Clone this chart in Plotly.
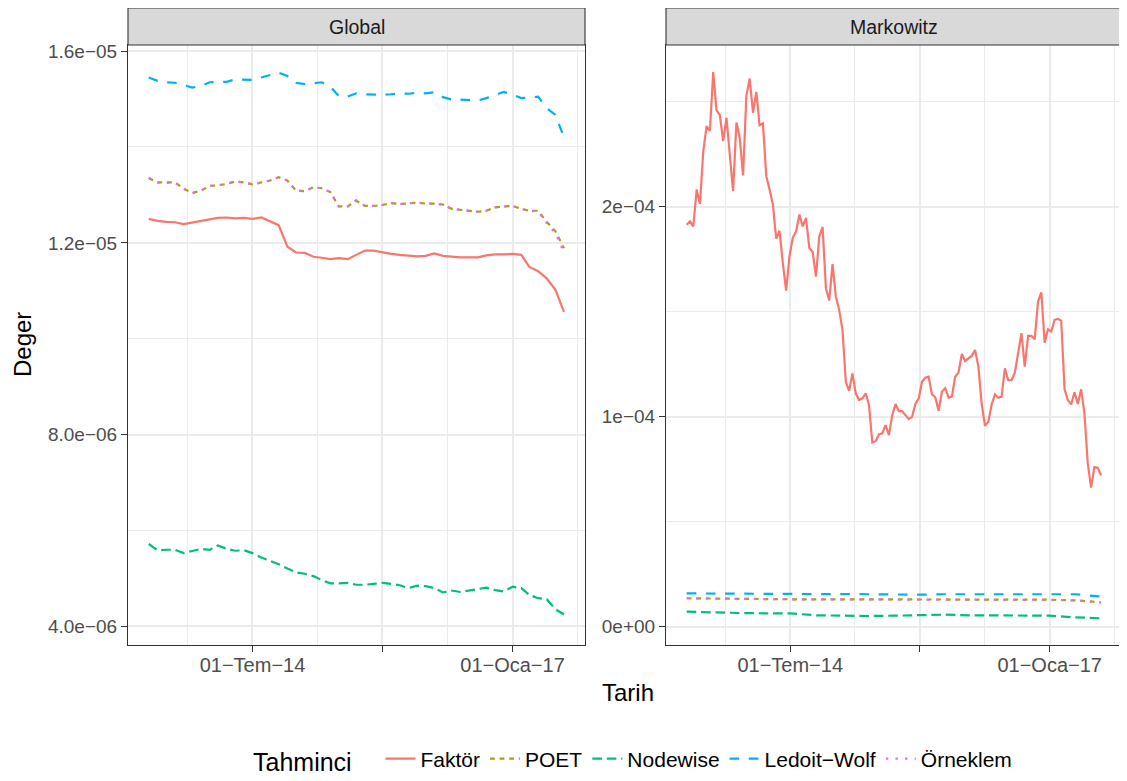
import pandas as pd
import plotly.graph_objects as go

# ---------------- data ----------------
series_names = ["Faktör", "POET", "Nodewise", "Ledoit−Wolf", "Örneklem"]
panel_names = ["Global", "Markowitz"]

x_tick_dates = ["2014-07-01", "2015-10-01", "2017-01-01"]
x_tick_labels = ["01−Tem−14", "", "01−Oca−17"]
x_minor_dates = ["2013-11-15", "2015-02-14", "2016-05-17", "2017-08-17"]

g_tick_vals = [4e-6, 8e-6, 1.2e-5, 1.6e-5]
g_tick_text = ["4.0e−06", "8.0e−06", "1.2e−05", "1.6e−05"]
g_minor_vals = [6e-6, 1e-5, 1.4e-5]
m_tick_vals = [0, 1e-4, 2e-4]
m_tick_text = ["0e+00", "1e−04", "2e−04"]
m_minor_vals = [5e-5, 1.5e-4, 2.5e-4]

# monthly dates (Global panel), values in units of 1e-6
dates_month = pd.date_range("2013-07-01", "2017-07-01", freq="MS")
global_faktor = [12.50, 12.46, 12.44, 12.43, 12.39, 12.42, 12.46, 12.49, 12.52, 12.53,
                 12.51, 12.52, 12.50, 12.53, 12.44, 12.37, 11.92, 11.80, 11.79, 11.71,
                 11.69, 11.66, 11.68, 11.66, 11.75, 11.84, 11.84, 11.80, 11.77, 11.75,
                 11.73, 11.72, 11.73, 11.78, 11.73, 11.71, 11.70, 11.70, 11.70, 11.74,
                 11.76, 11.76, 11.77, 11.75, 11.50, 11.41, 11.26, 11.02, 10.56]
global_poet = [13.35, 13.26, 13.26, 13.26, 13.13, 13.04, 13.09, 13.19, 13.20, 13.23,
               13.28, 13.26, 13.22, 13.26, 13.30, 13.37, 13.30, 13.09, 13.08, 13.16,
               13.14, 13.06, 12.76, 12.76, 12.88, 12.77, 12.77, 12.79, 12.83, 12.81,
               12.83, 12.84, 12.82, 12.82, 12.80, 12.71, 12.69, 12.67, 12.65, 12.67,
               12.74, 12.76, 12.77, 12.71, 12.67, 12.67, 12.44, 12.24, 11.89]
global_nodewise = [5.72, 5.59, 5.60, 5.60, 5.53, 5.58, 5.62, 5.60, 5.69, 5.62,
                   5.58, 5.59, 5.53, 5.44, 5.37, 5.30, 5.21, 5.13, 5.10, 5.05,
                   4.97, 4.90, 4.90, 4.91, 4.87, 4.87, 4.89, 4.91, 4.89, 4.86,
                   4.80, 4.85, 4.84, 4.80, 4.71, 4.75, 4.72, 4.75, 4.78, 4.81,
                   4.76, 4.73, 4.83, 4.80, 4.66, 4.59, 4.57, 4.36, 4.25]
global_ledoit = [15.45, 15.38, 15.35, 15.34, 15.29, 15.24, 15.27, 15.35, 15.36, 15.36,
                 15.41, 15.41, 15.40, 15.45, 15.50, 15.55, 15.48, 15.34, 15.31, 15.33,
                 15.35, 15.26, 15.06, 15.05, 15.12, 15.10, 15.09, 15.09, 15.10, 15.12,
                 15.11, 15.13, 15.12, 15.14, 15.04, 14.99, 14.99, 14.98, 14.97, 15.02,
                 15.09, 15.15, 15.09, 15.02, 15.03, 15.05, 14.81, 14.67, 14.20]
global_orneklem = [13.36, 13.26, 13.25, 13.26, 13.13, 13.04, 13.09, 13.19, 13.20, 13.23,
                   13.28, 13.26, 13.22, 13.26, 13.30, 13.37, 13.30, 13.09, 13.08, 13.16,
                   13.14, 13.06, 12.76, 12.76, 12.89, 12.77, 12.77, 12.79, 12.83, 12.81,
                   12.83, 12.84, 12.82, 12.82, 12.80, 12.71, 12.69, 12.67, 12.65, 12.67,
                   12.74, 12.76, 12.77, 12.71, 12.67, 12.66, 12.42, 12.20, 11.80]

# fine dates (Markowitz Faktör), values in units of 1e-4
markowitz_faktor = [1.914, 1.930, 1.906, 2.081, 2.013, 2.264, 2.383, 2.360, 2.641, 2.458,
                    2.436, 2.312, 2.423, 2.240, 2.073, 2.400, 2.328, 2.148, 2.527, 2.610,
                    2.447, 2.546, 2.387, 2.396, 2.145, 2.081, 2.010, 1.847, 1.885, 1.731,
                    1.600, 1.763, 1.851, 1.882, 1.962, 1.906, 1.946, 1.803, 1.784, 1.667,
                    1.858, 1.903, 1.612, 1.553, 1.726, 1.572, 1.508, 1.413, 1.166, 1.123,
                    1.206, 1.111, 1.079, 1.087, 1.111, 1.055, 0.877, 0.883, 0.915, 0.920,
                    0.959, 0.912, 1.007, 1.060, 1.026, 1.026, 1.007, 0.988, 0.999, 1.060,
                    1.087, 1.166, 1.185, 1.190, 1.106, 1.092, 1.028, 1.118, 1.135, 1.090,
                    1.095, 1.190, 1.209, 1.298, 1.265, 1.278, 1.289, 1.317, 1.238, 1.060,
                    0.956, 0.975, 1.058, 1.106, 1.090, 1.095, 1.230, 1.174, 1.174, 1.209,
                    1.302, 1.397, 1.238, 1.384, 1.384, 1.368, 1.548, 1.591, 1.352, 1.416,
                    1.405, 1.461, 1.465, 1.457, 1.130, 1.079, 1.058, 1.116, 1.060, 1.130,
                    1.015, 0.777, 0.662, 0.760, 0.757, 0.721]
dates_fine = pd.date_range("2013-07-01", "2017-07-01", periods=len(markowitz_faktor))

# quarterly dates (Markowitz flat series), values in units of 1e-6
dates_quarter = pd.date_range("2013-07-01", "2017-07-01", freq="QS")
markowitz_poet = [13.5, 13.3, 13.1, 13.0, 13.0, 13.0, 13.0, 13.0, 12.7, 12.7,
                  12.8, 12.8, 12.8, 12.8, 12.8, 12.5, 11.6]
markowitz_nodewise = [7.11, 6.63, 6.48, 6.32, 6.32, 5.37, 5.05, 5.05, 5.21, 5.37,
                      5.68, 5.37, 5.21, 5.21, 5.21, 4.41, 3.94]
markowitz_ledoit = [15.8, 15.7, 15.5, 15.5, 15.5, 15.5, 15.5, 15.4, 15.2, 15.2,
                    15.4, 15.4, 15.2, 15.4, 15.5, 15.4, 14.3]
markowitz_orneklem = [13.5, 13.3, 13.1, 13.0, 13.0, 13.0, 13.0, 12.9, 12.7, 12.7,
                      12.8, 12.8, 12.8, 12.8, 12.7, 12.5, 11.5]

# ---------------- styles ----------------
colors = ["#F8766D", "#A3A500", "#00BF7D", "#00B0F6", "#E76BF3"]
dashes = ["solid", "4.8px,4.8px", "9.6px,4.8px", "9.6px,9.6px", "2.4px,7.2px"]
LW = 2.2
FONT = "Liberation Sans, Arial, Helvetica, sans-serif"

W, H = 1127, 781
OFF = 8  # page body margin offset
def px(v):
    return (v - OFF) / W
def py(v):
    return 1 - (v - OFF) / H

panel_x = [(128, 585), (666, 1122)]
panel_y = (45, 645)

fig = go.Figure()

global_data = [global_faktor, global_poet, global_nodewise, global_ledoit, global_orneklem]
for i, name in enumerate(series_names):
    fig.add_trace(go.Scatter(
        x=dates_month, y=[v * 1e-6 for v in global_data[i]], mode="lines", name=name,
        legendgroup=name, showlegend=True,
        line=dict(color=colors[i], dash=dashes[i], width=LW),
        xaxis="x", yaxis="y"))

mk_x = [dates_fine, dates_quarter, dates_quarter, dates_quarter, dates_quarter]
mk_y = [[v * 1e-4 for v in markowitz_faktor],
        [v * 1e-6 for v in markowitz_poet],
        [v * 1e-6 for v in markowitz_nodewise],
        [v * 1e-6 for v in markowitz_ledoit],
        [v * 1e-6 for v in markowitz_orneklem]]
for i, name in enumerate(series_names):
    fig.add_trace(go.Scatter(
        x=mk_x[i], y=mk_y[i], mode="lines", name=name,
        legendgroup=name, showlegend=False,
        line=dict(color=colors[i], dash=dashes[i], width=LW),
        xaxis="x2", yaxis="y2"))

x_range = ["2013-04-19", "2017-09-13"]
common_x = dict(
    range=x_range, type="date",
    tickmode="array", tickvals=x_tick_dates, ticktext=x_tick_labels,
    ticks="outside", ticklen=6, tickwidth=1.1, tickcolor="#333333",
    tickfont=dict(family=FONT, size=20, color="#4D4D4D"),
    ticklabelstandoff=-4,
    showgrid=True, gridcolor="#EBEBEB", gridwidth=2,
    minor=dict(tickmode="array", tickvals=x_minor_dates, showgrid=True,
               gridcolor="#EBEBEB", gridwidth=1, ticks=""),
    showline=True, linecolor="#333333", linewidth=1.1, mirror=True,
    zeroline=False, automargin=False,
)
common_y = dict(
    tickmode="array",
    ticks="outside", ticklen=6, tickwidth=1.1, tickcolor="#333333",
    tickfont=dict(family=FONT, size=19, color="#4D4D4D"),
    showgrid=True, gridcolor="#EBEBEB", gridwidth=2,
    showline=True, linecolor="#333333", linewidth=1.1, mirror=True,
    zeroline=False, automargin=False,
    domain=[py(panel_y[1]), py(panel_y[0])],
)

fig.update_layout(
    width=W, height=H,
    margin=dict(l=0, r=0, t=0, b=0),
    paper_bgcolor="white", plot_bgcolor="white",
    font=dict(family=FONT, color="black"),
    xaxis=dict(common_x, domain=[px(panel_x[0][0]), px(panel_x[0][1])], anchor="y"),
    xaxis2=dict(common_x, domain=[px(panel_x[1][0]), px(panel_x[1][1])], anchor="y2"),
    yaxis=dict(common_y, range=[3.614e-6, 16.127e-6], tickvals=g_tick_vals, ticktext=g_tick_text,
               minor=dict(tickmode="array", tickvals=g_minor_vals, showgrid=True,
                          gridcolor="#EBEBEB", gridwidth=1, ticks=""),
               anchor="x"),
    yaxis2=dict(common_y, range=[-0.0876e-4, 2.7695e-4], tickvals=m_tick_vals, ticktext=m_tick_text,
                minor=dict(tickmode="array", tickvals=m_minor_vals, showgrid=True,
                           gridcolor="#EBEBEB", gridwidth=1, ticks=""),
                anchor="x2"),
    legend=dict(
        orientation="h", x=px(634), xanchor="center", y=py(760), yanchor="middle",
        title=dict(text="Tahminci&nbsp;&nbsp;&nbsp;",
                   font=dict(family=FONT, size=25, color="black"), side="left"),
        font=dict(family=FONT, size=21, color="black"),
        bgcolor="rgba(0,0,0,0)", itemwidth=30, tracegroupgap=0,
    ),
    showlegend=True,
)

shapes = []
annotations = []
for (x0, x1), label in zip(panel_x, panel_names):
    shapes.append(dict(type="rect", xref="paper", yref="paper",
                       x0=px(x0), x1=px(x1), y0=py(45), y1=py(8),
                       fillcolor="#D9D9D9", line=dict(color="#333333", width=1.1),
                       layer="above"))
    annotations.append(dict(text=label, xref="paper", yref="paper",
                            x=px((x0 + x1) / 2), y=py(26.5), showarrow=False,
                            xanchor="center", yanchor="middle",
                            font=dict(family=FONT, size=19.5, color="#1A1A1A")))
annotations.append(dict(text="Tarih", xref="paper", yref="paper", x=px(628), y=py(692),
                        showarrow=False, xanchor="center", yanchor="middle",
                        font=dict(family=FONT, size=24, color="black")))
annotations.append(dict(text="Deger", xref="paper", yref="paper", x=px(22), y=py(345),
                        showarrow=False, xanchor="center", yanchor="middle", textangle=-90,
                        font=dict(family=FONT, size=24, color="black")))
fig.update_layout(shapes=shapes, annotations=annotations)

fig.write_html("out.html")
